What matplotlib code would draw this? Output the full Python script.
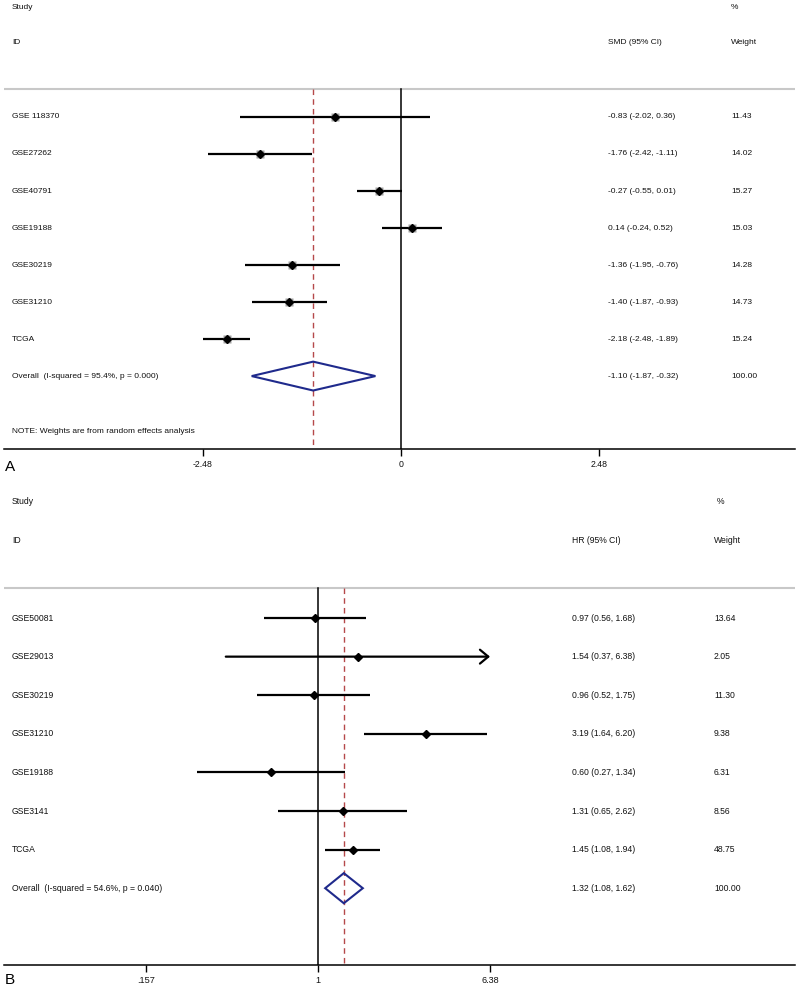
import numpy as np
import matplotlib
matplotlib.use('Agg')
from matplotlib import pyplot as plt
from matplotlib.patches import Polygon

plt.rcParams['font.family'] = ['Liberation Sans', 'DejaVu Sans']

# panel A: SMD
a_ids = ['GSE 118370', 'GSE27262', 'GSE40791', 'GSE19188', 'GSE30219', 'GSE31210', 'TCGA']
a_est = [-0.83, -1.76, -0.27, 0.14, -1.36, -1.40, -2.18]
a_lo = [-2.02, -2.42, -0.55, -0.24, -1.95, -1.87, -2.48]
a_hi = [0.36, -1.11, 0.01, 0.52, -0.76, -0.93, -1.89]
a_wt = [11.43, 14.02, 15.27, 15.03, 14.28, 14.73, 15.24]
a_overall = (-1.10, -1.87, -0.32)
a_overall_label = 'Overall  (I-squared = 95.4%, p = 0.000)'
a_ticks = [-2.48, 0, 2.48]
a_ticklabels = ['-2.48', '0', '2.48']

# panel B: HR
b_ids = ['GSE50081', 'GSE29013', 'GSE30219', 'GSE31210', 'GSE19188', 'GSE3141', 'TCGA']
b_est = [0.97, 1.54, 0.96, 3.19, 0.60, 1.31, 1.45]
b_lo = [0.56, 0.37, 0.52, 1.64, 0.27, 0.65, 1.08]
b_hi = [1.68, 6.38, 1.75, 6.20, 1.34, 2.62, 1.94]
b_wt = [13.64, 2.05, 11.30, 9.38, 6.31, 8.56, 48.75]
b_overall = (1.32, 1.08, 1.62)
b_overall_label = 'Overall  (I-squared = 54.6%, p = 0.040)'
b_ticks = [0.157, 1, 6.38]
b_ticklabels = ['.157', '1', '6.38']

RED = '#b5484a'
NAVY = '#1f2a8c'
TXT = '#111111'


def forest(ax, ids, est, lo, hi, wt, overall, overall_label, col_name, ref,
           xcol_est, xcol_wt, xcol_pct, fs, boxes, clip_hi=None, note=None,
           header_y=(-3.0, -2.0), line_y=-0.77):
    tr = ax.get_yaxis_transform()  # x axes fraction, y data
    n = len(ids)
    rows = np.arange(n)
    kw = dict(transform=tr, fontsize=fs, va='center', color=TXT)
    # header
    ax.text(0.0101, header_y[0], 'Study', **kw)
    ax.text(0.0101, header_y[1], 'ID', **kw)
    ax.text(xcol_pct, header_y[0], '%', **kw)
    ax.text(xcol_est, header_y[1], col_name, **kw)
    ax.text(xcol_wt, header_y[1], 'Weight', **kw)
    ax.axhline(line_y, color='#c8c8c8', lw=1.5)

    ylim_bot = ax.get_ylim()[0]
    ax.plot([ref, ref], [line_y, ylim_bot], color='black', lw=1.1, zorder=2)
    ax.plot([overall[0], overall[0]], [line_y, ylim_bot], color=RED, lw=1.0,
            ls=(0, (4, 3)), zorder=2)

    for i in rows:
        if clip_hi is not None and hi[i] >= clip_hi:
            ax.annotate('', xy=(hi[i], i), xytext=(lo[i], i),
                        arrowprops=dict(arrowstyle='->,head_length=0.6,head_width=0.5',
                                        lw=1.6, color='black', shrinkA=0, shrinkB=0,
                                        mutation_scale=10))
        else:
            ax.plot([lo[i], hi[i]], [i, i], color='black', lw=1.6, zorder=3,
                    solid_capstyle='butt')
        if boxes:
            ax.plot(est[i], i, marker='s', ms=5.5, color='#8a8a8a', alpha=0.8,
                    mec='none', zorder=4)
        ax.plot(est[i], i, marker='D', ms=3.6, color='black', zorder=5)
        ax.text(0.0101, i, ids[i], **kw)
        ax.text(xcol_est, i, f'{est[i]:.2f} ({lo[i]:.2f}, {hi[i]:.2f})', **kw)
        ax.text(xcol_wt, i, f'{wt[i]:.2f}', **kw)

    yo = n
    h = 0.39
    m, l, u = overall
    ax.add_patch(Polygon([(l, yo), (m, yo - h), (u, yo), (m, yo + h)], closed=True,
                         fill=False, edgecolor=NAVY, lw=1.5, zorder=4))
    ax.text(0.0101, yo, overall_label, **kw)
    ax.text(xcol_est, yo, f'{m:.2f} ({l:.2f}, {u:.2f})', **kw)
    ax.text(xcol_wt, yo, '100.00', **kw)
    if note:
        ax.text(0.0101, note[1], note[0], **kw)

    for s in ['top', 'left', 'right']:
        ax.spines[s].set_visible(False)
    ax.spines['bottom'].set_linewidth(1.1)
    ax.set_yticks([])
    ax.tick_params(axis='x', length=5, width=1.0, labelsize=fs + 0.3, pad=3,
                   labelcolor=TXT)
    ax.minorticks_off()


fig = plt.figure(figsize=(8, 9.9), dpi=100)

# panel A
axA = fig.add_axes([4 / 800, 1 - 449 / 990, 791 / 800, 449 / 990])
axA.set_xlim(-4.972, 4.935)
axA.set_ylim(8.97, -3.16)
forest(axA, a_ids, a_est, a_lo, a_hi, a_wt, a_overall, a_overall_label,
       'SMD (95% CI)', 0, 0.7636, 0.919, 0.919, 6.0, boxes=True,
       note=('NOTE: Weights are from random effects analysis', 8.49),
       header_y=(-2.97, -2.0), line_y=-0.76)
axA.set_xticks(a_ticks)
axA.set_xticklabels(a_ticklabels)

# panel B
axB = fig.add_axes([4 / 800, 1 - 965 / 990, 791 / 800, 477 / 990])
axB.set_xscale('log')
axB.set_xlim(0.0339, 170.7)
axB.set_ylim(8.99, -3.37)
forest(axB, b_ids, b_est, b_lo, b_hi, b_wt, b_overall, b_overall_label,
       'HR (95% CI)', 1, 0.718, 0.8976, 0.901, 6.25, boxes=False, clip_hi=6.38,
       header_y=(-3.03, -2.0), line_y=-0.78)
axB.set_xticks(b_ticks)
axB.set_xticklabels(b_ticklabels)
axB.minorticks_off()

fig.text(5 / 800, 1 - 467 / 990, 'A', fontsize=11, va='center')
fig.text(5 / 800, 1 - 980 / 990, 'B', fontsize=11, va='center')

fig.savefig('out.png', dpi=100, facecolor='white')
